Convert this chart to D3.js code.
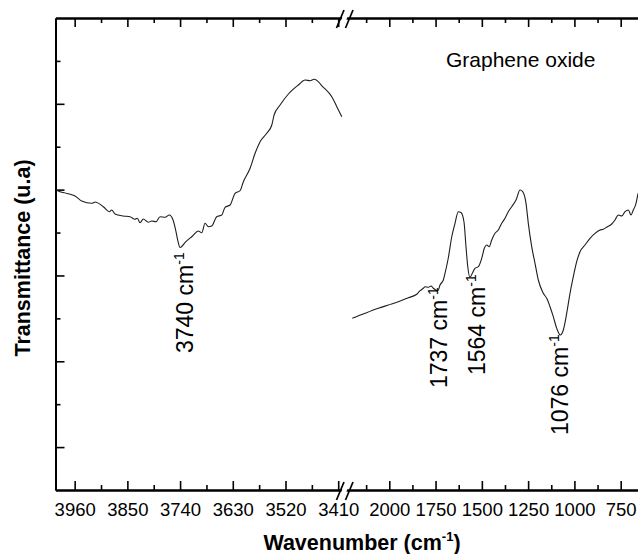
<!DOCTYPE html>
<html>
<head>
<meta charset="utf-8">
<script src="https://cdn.jsdelivr.net/npm/d3@7"></script>
<style>
  html, body { margin: 0; padding: 0; background: #fff; }
  svg { display: block; }
  text { font-family: Arial, "Liberation Sans", sans-serif; fill: #000; }
</style>
</head>
<body>
<svg id="chart" width="638" height="554"></svg>
<script>
// FTIR spectrum of graphene oxide, broken wavenumber axis.
// High-wavenumber segment (cm-1) and transmittance (arbitrary units)
const hiWavenumber = [3999, 3990.6, 3976, 3959.3, 3945.3, 3924.4, 3917.5, 3900.2, 3887.7, 3882.7,
  3875.8, 3858.5, 3844.5, 3834.1, 3829.2, 3823.6, 3816.7, 3806.3, 3799.2, 3790.2,
  3781.8, 3771.4, 3762.4, 3755.3, 3750, 3745, 3740, 3728, 3714, 3702,
  3694.8, 3687.9, 3681, 3673.9, 3663.5, 3653, 3646.1, 3635.7, 3625.2, 3614.8,
  3607.9, 3593.9, 3583.5, 3573, 3559, 3548.6, 3543.8, 3531.3, 3513.9, 3493.1,
  3479.1, 3468.7, 3460.3, 3440.9, 3423.4, 3412.9, 3402.5];
const hiTransmittance = [6.991, 6.952, 6.910, 6.852, 6.735, 6.681, 6.712, 6.602, 6.486, 6.525,
  6.432, 6.386, 6.369, 6.309, 6.332, 6.229, 6.316, 6.239, 6.269, 6.253,
  6.369, 6.355, 6.409, 6.309, 6.099, 5.826, 5.651, 5.787, 5.919, 6.036,
  5.996, 6.215, 6.136, 6.152, 6.369, 6.409, 6.588, 6.642, 6.915, 6.975,
  7.185, 7.497, 7.847, 8.117, 8.313, 8.506, 8.739, 8.972, 9.229, 9.439,
  9.555, 9.539, 9.571, 9.385, 9.166, 8.933, 8.700];

// Fingerprint segment (cm-1) and transmittance (arbitrary units)
const loWavenumber = [2199.8, 2131.2, 2059.3, 2005.3, 1951.3, 1897.2, 1851.9, 1834, 1816.2, 1807,
  1789.2, 1774.6, 1762.2, 1737, 1726, 1708.2, 1699, 1681.2, 1662.8, 1645,
  1627.2, 1612.6, 1596.4, 1585.6, 1576, 1564, 1551.5, 1537, 1519.1, 1500.7,
  1486.7, 1473.7, 1459.7, 1446.7, 1428.9, 1411.1, 1392.7, 1374.9, 1357, 1338.7,
  1315.5, 1293.8, 1279.3, 1261.4, 1249, 1230.6, 1212.8, 1195, 1168, 1149.6,
  1131.8, 1114, 1095.6, 1076, 1059.9, 1041.6, 1023.7, 1005.9, 987.6, 969.7,
  942.7, 915.7, 888.7, 861.7, 843.9, 822.2, 798.5, 780.7, 762.8, 744.5,
  726.6, 708.8, 694.2, 681.8, 667.2, 656.4];
const loTransmittance = [4.001, 4.118, 4.234, 4.311, 4.388, 4.481, 4.561, 4.645, 4.701, 4.738,
  4.724, 4.754, 4.701, 4.645, 4.777, 4.894, 5.050, 5.407, 5.896, 6.215,
  6.486, 6.467, 6.246, 5.670, 5.204, 4.957, 5.050, 5.167, 5.204, 5.400,
  5.633, 5.710, 5.670, 5.826, 5.982, 6.059, 6.215, 6.332, 6.486, 6.602,
  6.758, 6.991, 6.952, 6.681, 6.215, 5.670, 5.283, 4.894, 4.584, 4.467,
  4.272, 4.039, 3.768, 3.612, 3.729, 4.118, 4.584, 4.971, 5.320, 5.553,
  5.710, 5.866, 5.982, 6.059, 6.076, 6.136, 6.199, 6.292, 6.409, 6.385,
  6.486, 6.525, 6.409, 6.525, 6.681, 6.914];

// Axis ticks
const hiMajorTicks = [3960, 3850, 3740, 3630, 3520, 3410];
const hiMinorTicks = [3905, 3795, 3685, 3575, 3465];
const loMajorTicks = [2000, 1750, 1500, 1250, 1000, 750];
const loMinorTicks = [2125, 1875, 1625, 1375, 1125, 875];
const yMajorTicks = [1, 3, 5, 7, 9];
const yMinorTicks = [2, 4, 6, 8, 10];

// Band assignments marked on the spectrum
const bandWavenumbers = [3740, 1737, 1564, 1076];
const bandLabels = ["3740 cm", "1737 cm", "1564 cm", "1076 cm"];

const svg = d3.select("#chart");

const plot = { left: 55.5, top: 18, bottom: 490, brk: 343, right: 639.2 };

const xHi = d3.scaleLinear().domain([4000, 3400]).range([plot.left, plot.brk]);
const xLo = d3.scaleLinear().domain([2250, 650]).range([plot.brk, plot.right]);
const y = d3.scaleLinear().domain([0, 11]).range([plot.bottom, plot.top]);

const AX_W = 2;

function styleAxis(g) {
  g.select(".domain").attr("stroke", "#000").attr("stroke-width", AX_W);
  g.selectAll(".tick line").attr("stroke", "#000").attr("stroke-width", 1.6);
  g.selectAll(".tick text")
    .style("font-size", "18.5px")
    .attr("fill", "#000");
}

// Bottom axes (ticks pointing inward)
[[xHi, hiMajorTicks, hiMinorTicks], [xLo, loMajorTicks, loMinorTicks]].forEach(([sc, maj, min]) => {
  svg.append("g")
    .attr("transform", `translate(0,${plot.bottom})`)
    .call(d3.axisBottom(sc).tickValues(min).tickSize(-5).tickSizeOuter(0).tickFormat(""))
    .call(styleAxis);
  svg.append("g")
    .attr("transform", `translate(0,${plot.bottom})`)
    .call(d3.axisBottom(sc).tickValues(maj).tickSize(-9).tickSizeOuter(0).tickPadding(13).tickFormat(d3.format("d")))
    .call(styleAxis);
  // Top axes
  svg.append("g")
    .attr("transform", `translate(0,${plot.top})`)
    .call(d3.axisTop(sc).tickValues(min).tickSize(-5).tickSizeOuter(0).tickFormat(""))
    .call(styleAxis);
  svg.append("g")
    .attr("transform", `translate(0,${plot.top})`)
    .call(d3.axisTop(sc).tickValues(maj).tickSize(-9).tickSizeOuter(0).tickFormat(""))
    .call(styleAxis);
});

// Left axis, unlabeled
svg.append("g")
  .attr("transform", `translate(${plot.left},0)`)
  .call(d3.axisLeft(y).tickValues(yMinorTicks).tickSize(-5).tickSizeOuter(0).tickFormat(""))
  .call(styleAxis);
svg.append("g")
  .attr("transform", `translate(${plot.left},0)`)
  .call(d3.axisLeft(y).tickValues(yMajorTicks).tickSize(-9).tickSizeOuter(0).tickFormat(""))
  .call(styleAxis);

// Axis break marks
[plot.top, plot.bottom].forEach(yy => {
  const g = svg.append("g").attr("class", "break");
  g.append("polygon")
    .attr("points", `${plot.brk - 2},${yy + 3} ${plot.brk + 3},${yy + 3} ${plot.brk + 5},${yy - 3} ${plot.brk},${yy - 3}`)
    .attr("fill", "#fff");
  [-6.5, 2.5].forEach(dx => {
    g.append("line")
      .attr("x1", plot.brk + dx).attr("y1", yy + 10)
      .attr("x2", plot.brk + dx + 7.5).attr("y2", yy - 8)
      .attr("stroke", "#000").attr("stroke-width", 1.7);
  });
});

// Spectrum lines
const hiData = hiWavenumber.map((w, i) => [w, hiTransmittance[i]]);
const loData = loWavenumber.map((w, i) => [w, loTransmittance[i]]);

svg.append("path")
  .datum(hiData)
  .attr("d", d3.line().x(d => xHi(d[0])).y(d => y(d[1])).curve(d3.curveMonotoneX))
  .attr("fill", "none").attr("stroke", "#1e1e1e").attr("stroke-width", 1.1);
svg.append("path")
  .datum(loData)
  .attr("d", d3.line().x(d => xLo(d[0])).y(d => y(d[1])).curve(d3.curveMonotoneX))
  .attr("fill", "none").attr("stroke", "#1e1e1e").attr("stroke-width", 1.1);

// Band labels (rotated, reading upward)
const bandLayout = [
  { scale: xHi, dx: 13, y: 353 },
  { scale: xLo, dx: 9, y: 388 },
  { scale: xLo, dx: 15, y: 375 },
  { scale: xLo, dx: 8, y: 435 }
];
bandWavenumbers.forEach((w, i) => {
  const L = bandLayout[i];
  const t = svg.append("text")
    .attr("transform", `translate(${L.scale(w) + L.dx},${L.y}) rotate(-90)`)
    .style("font-size", "23px");
  t.append("tspan").text(bandLabels[i]);
  t.append("tspan").text("-1").style("font-size", "14px").attr("dy", "-9");
});

// Sample name
svg.append("text")
  .attr("x", 446).attr("y", 67)
  .style("font-size", "21px")
  .text("Graphene oxide");

// Axis titles
const xt = svg.append("text")
  .attr("x", 362).attr("y", 550)
  .attr("text-anchor", "middle")
  .style("font-size", "21.5px").style("font-weight", "bold");
xt.append("tspan").text("Wavenumber (cm");
xt.append("tspan").text("-1").style("font-size", "13px").attr("dy", "-9");
xt.append("tspan").text(")").attr("dy", "9");

svg.append("text")
  .attr("transform", `translate(30,258) rotate(-90)`)
  .attr("text-anchor", "middle")
  .style("font-size", "21.5px").style("font-weight", "bold")
  .text("Transmittance (u.a)");
</script>
</body>
</html>
